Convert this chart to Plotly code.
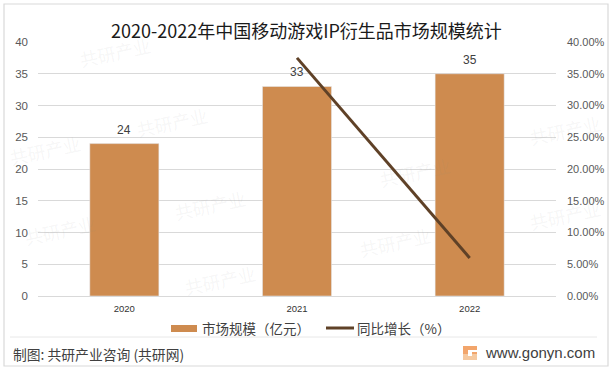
import plotly.graph_objects as go

years = ["2020", "2021", "2022"]
market_size = [24, 33, 35]
growth = [None, 37.5, 6.0]
left_ticks = [0, 5, 10, 15, 20, 25, 30, 35, 40]
right_ticks = [0, 5, 10, 15, 20, 25, 30, 35, 40]
right_labels = ["0.00%", "5.00%", "10.00%", "15.00%", "20.00%", "25.00%", "30.00%", "35.00%", "40.00%"]
bar_name = "市场规模（亿元）"
line_name = "同比增长（%）"

W, H = 613, 371
FONT = "Noto Sans CJK SC, Liberation Sans, sans-serif"
LATIN = "Liberation Sans, sans-serif"
GREY = "#595959"
BAR = "#CE8B4F"
LINE = "#5F4127"
L, R, T, B = 38, 556, 42, 296

fig = go.Figure()
fig.add_trace(go.Bar(x=years, y=market_size, name=bar_name, marker_color=BAR, width=0.4, showlegend=False))
fig.add_trace(go.Scatter(x=years, y=growth, name=line_name, mode="lines", yaxis="y2", showlegend=False,
                         line=dict(color=LINE, width=3)))

ann = []
def text(x, y, s, size, color, anchor="left", angle=0, fam=FONT):
    ann.append(dict(x=x / W, y=1 - y / H, xref="paper", yref="paper", text=s, showarrow=False,
                    xanchor=anchor, yanchor="middle", textangle=angle,
                    font=dict(size=size, color=color, family=fam)))

for wx, wy in [(115, 52), (172, 122), (210, 205), (415, 172), (395, 242), (220, 280), (60, 230), (45, 150), (565, 130), (565, 215)]:
    text(wx, wy, "共研产业", 18, "rgba(140,140,140,0.08)", "center", -12)

for i, v in enumerate(market_size):
    ann.append(dict(x=i, y=v, xref="x", yref="y", text=str(v), showarrow=False, yshift=14,
                    xanchor="center", yanchor="middle", font=dict(size=12, color="#404040", family=LATIN)))

text(306, 30, "2020-2022年中国移动游戏IP衍生品市场规模统计", 18, "#1a1a1a", "center")
text(200, 328, bar_name, 13.5, "#404040")
text(355, 328, line_name, 13.5, "#404040")
text(11, 354, "制图: 共研产业咨询 (共研网)", 13.8, "#404040")
text(597, 352, "www.gonyn.com", 15, "#404040", "right", fam=LATIN)

def px(x0, y0, x1, y1):
    return dict(x0=x0 / W, x1=x1 / W, y0=1 - y0 / H, y1=1 - y1 / H, xref="paper", yref="paper")

shapes = [
    dict(type="rect", line=dict(color="#D9D9D9", width=1.2), fillcolor="rgba(0,0,0,0)", **px(4, 4, 608, 366)),
    dict(type="line", line=dict(color="#E8E8E8", width=1), **px(10, 337, 597, 337)),
    dict(type="rect", line=dict(width=0), fillcolor=BAR, **px(171, 325, 197, 332)),
    dict(type="line", line=dict(color=LINE, width=3), **px(326, 328, 354, 328)),
    dict(type="rect", line=dict(width=0), fillcolor="#F2A56B", **px(463, 346, 477, 360)),
    dict(type="rect", line=dict(width=0), fillcolor="#F5C9A0", **px(463, 354, 477, 360)),
    dict(type="rect", line=dict(width=0), fillcolor="#FFFFFF", **px(468, 350, 477, 352)),
    dict(type="rect", line=dict(width=0), fillcolor="#FFFFFF", **px(468, 352, 472, 356)),
]

fig.update_layout(
    width=W, height=H, autosize=False, paper_bgcolor="white", plot_bgcolor="rgba(0,0,0,0)",
    margin=dict(l=0, r=0, t=0, b=0), font=dict(family=FONT, color=GREY),
    showlegend=False,
    xaxis=dict(domain=[L / W, R / W], type="category", range=[-0.5, 2.5], categoryorder="array", categoryarray=years,
               showgrid=False, showline=True, linecolor="#D9D9D9", automargin=False,
               ticks="", tickfont=dict(size=9.5, color="#333333", family=LATIN), anchor="y",
               ticklabelstandoff=4),
    yaxis=dict(domain=[1 - B / H, 1 - T / H], range=[0, 40], tickvals=left_ticks, showgrid=True, automargin=False,
               gridcolor="#D9D9D9", gridwidth=1, zeroline=False, showline=False, ticks="",
               tickfont=dict(size=11.5, color=GREY, family=LATIN), ticklabelstandoff=9),
    yaxis2=dict(domain=[1 - B / H, 1 - T / H], range=[0, 40], overlaying="y", side="right", automargin=False,
                tickvals=right_ticks, ticktext=right_labels, showgrid=False, zeroline=False, showline=False,
                ticks="", tickfont=dict(size=11, color=GREY, family=LATIN), ticklabelstandoff=10),
    annotations=ann, shapes=shapes,
)
fig.write_html("out.html", config={"displayModeBar": False},
               post_script="document.body.style.margin='0';document.documentElement.style.overflow='hidden';")
